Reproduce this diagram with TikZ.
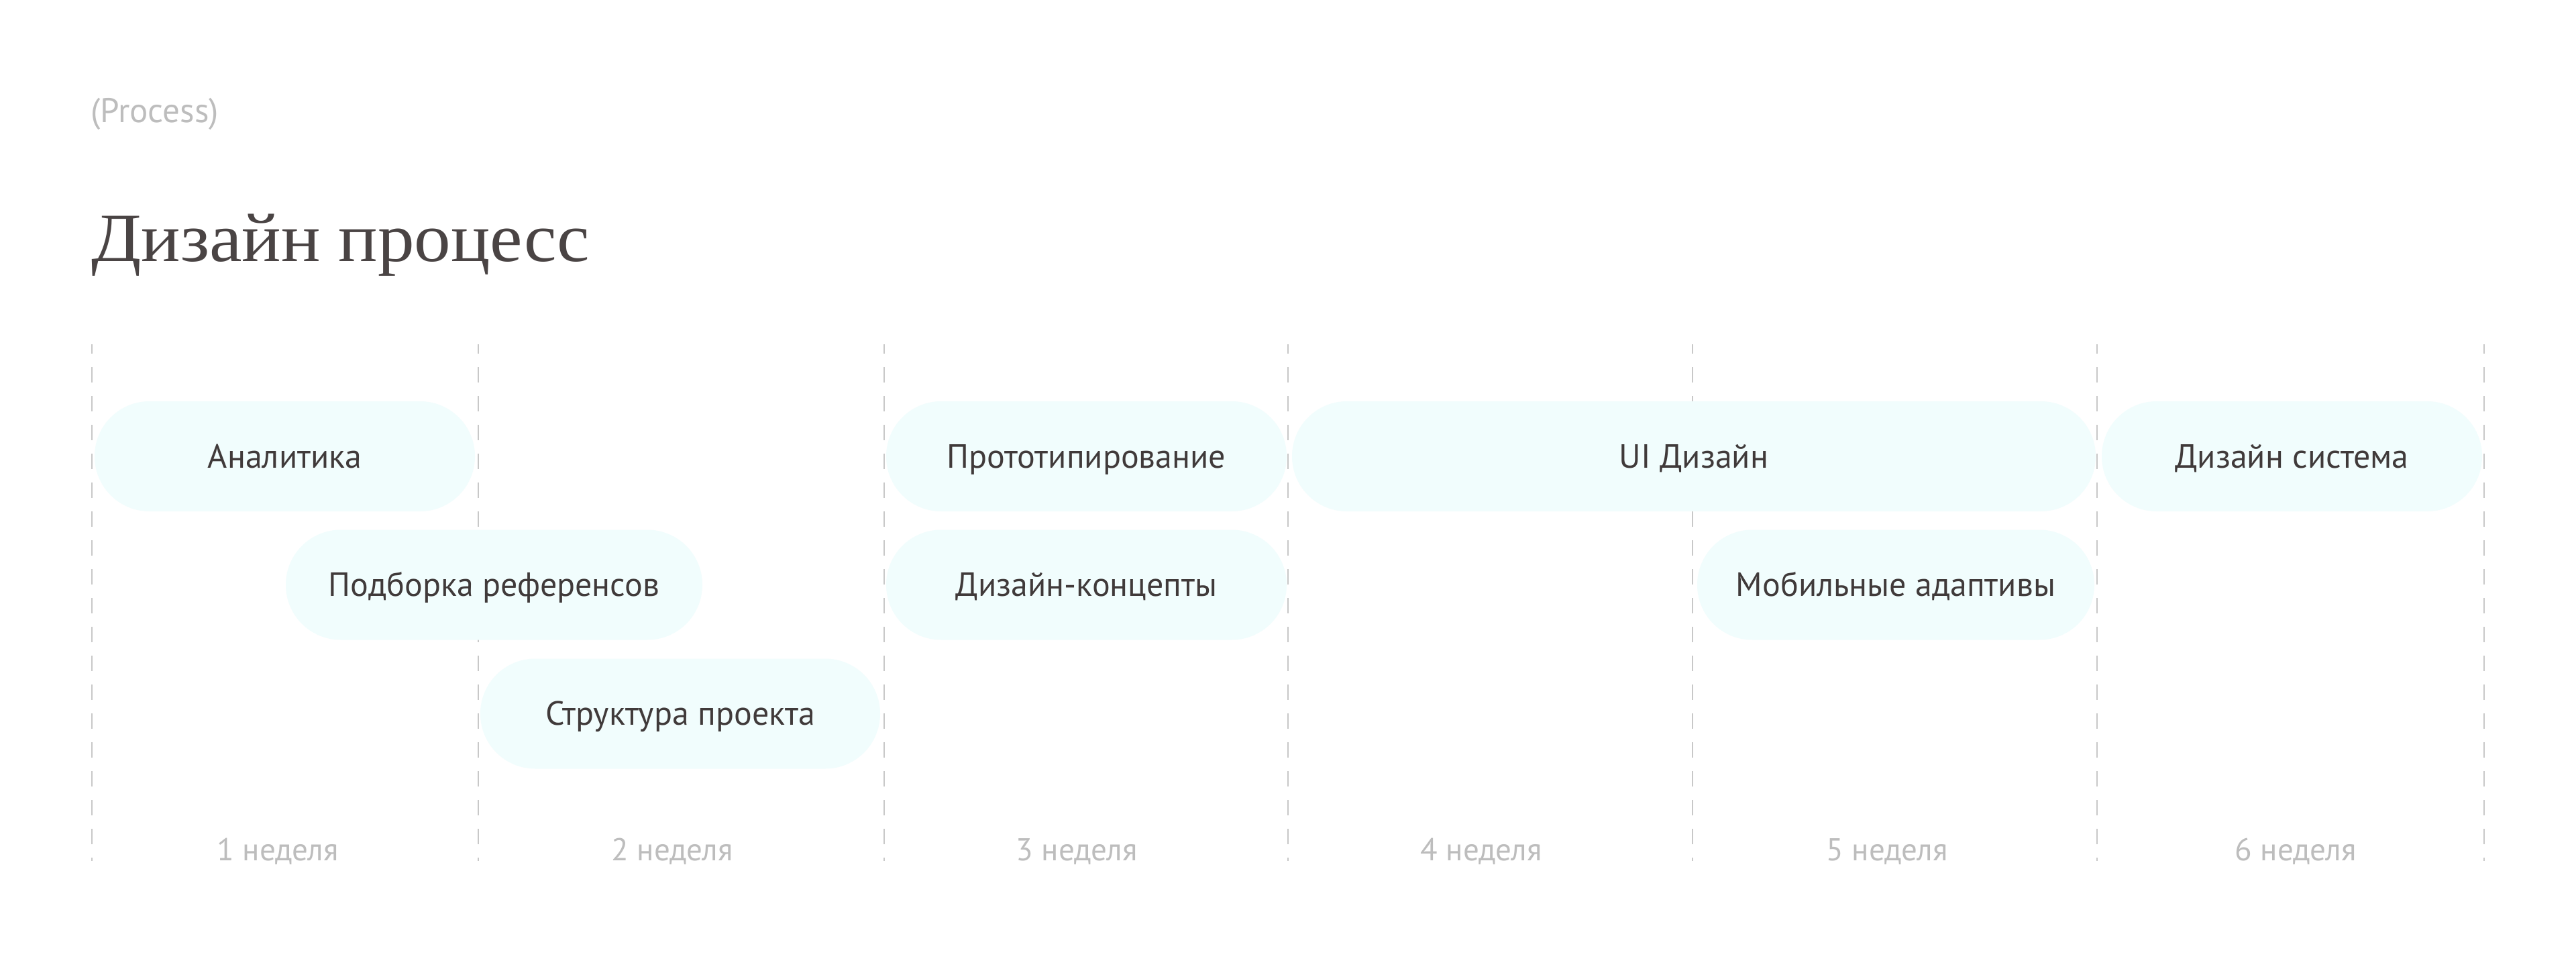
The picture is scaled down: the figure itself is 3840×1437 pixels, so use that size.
\documentclass[tikz,border=0pt]{standalone}
\usepackage{fontspec}
\setmainfont{PT Sans}
\newfontfamily\titlefont{Liberation Serif}
\definecolor{pillfill}{RGB}{241,253,253}
\definecolor{txtdark}{RGB}{64,58,58}
\definecolor{titlecol}{RGB}{74,68,68}
\definecolor{lblgray}{RGB}{189,189,189}
\definecolor{dashgray}{RGB}{200,200,200}
\tikzset{
  pill/.style={rectangle, rounded corners=81.9pt, fill=pillfill, draw=none,
    minimum height=164pt, inner sep=0pt, text=txtdark,
    font=\fontsize{50}{60}\selectfont, text height=34pt, text depth=0pt},
  weeklbl/.style={anchor=base, inner sep=0pt, text=lblgray, font=\fontsize{47}{56}\selectfont},
  gridline/.style={draw=dashgray, line width=2.5pt, dash pattern=on 23pt off 20pt, dash phase=9pt}
}
\begin{document}
\begin{tikzpicture}[x=1pt,y=-1pt]
\path[use as bounding box, fill=white] (0,0) rectangle (3840,1437);
% header
\node[anchor=base west, inner sep=0pt, text=lblgray, font=\fontsize{51}{60}\selectfont] (proc) at (135,182) {(Process)};
\node[anchor=base west, inner sep=0pt, text=titlecol, font=\titlefont\fontsize{103}{120}\selectfont] (title) at (136,389) {\scalebox{1.06}[1]{Дизайн процесс}};
% grid lines
\foreach \i/\x in {0/137,1/713,2/1318,3/1920,4/2523,5/3126,6/3703}{
  \coordinate (t\i) at (\x,513);
  \coordinate (b\i) at (\x,1283);
  \draw[gridline] (t\i) -- (b\i);
}
% row 1
\node[pill, minimum width=567pt] (anal) at (424.5,680) {Аналитика};
\node[pill, minimum width=597pt] (proto) at (1619.5,680) {Прототипирование};
\node[pill, minimum width=1198pt] (ui) at (2525,680) {UI Дизайн};
\node[pill, minimum width=567pt] (dsys) at (3416.5,680) {Дизайн система};
% row 2
\node[pill, minimum width=621pt] (refs) at (736.5,871.5) {Подборка референсов};
\node[pill, minimum width=597pt] (conc) at (1619.5,871.5) {Дизайн-концепты};
\node[pill, minimum width=592pt] (mob) at (2826,871.5) {Мобильные адаптивы};
% row 3
\node[pill, minimum width=596pt] (struct) at (1014,1063.5) {Структура проекта};
% week labels
\node[weeklbl] (w1) at (414,1282) {1 неделя};
\node[weeklbl] (w2) at (1002,1282) {2 неделя};
\node[weeklbl] (w3) at (1605,1282) {3 неделя};
\node[weeklbl] (w4) at (2208,1282) {4 неделя};
\node[weeklbl] (w5) at (2813,1282) {5 неделя};
\node[weeklbl] (w6) at (3422,1282) {6 неделя};
\end{tikzpicture}
\end{document}
